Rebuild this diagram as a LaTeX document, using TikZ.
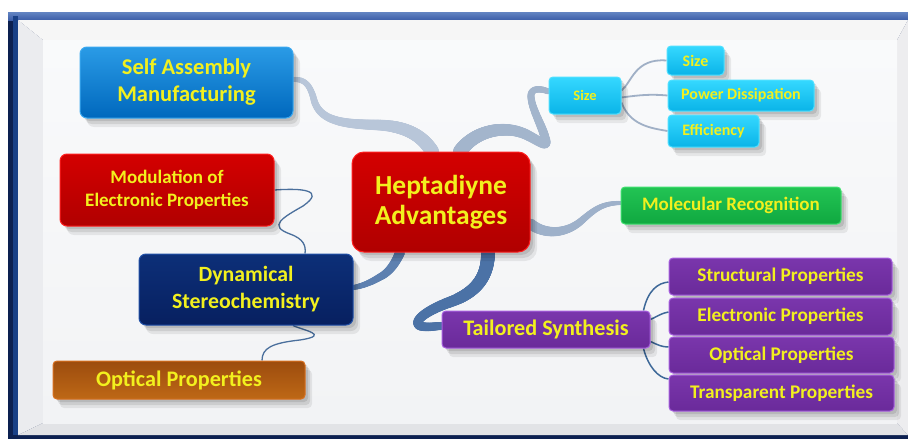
\documentclass[tikz,border=0pt]{standalone}
\usepackage{fontspec}
\setmainfont{Carlito}
\usetikzlibrary{calc,shadows,decorations.markings}
\pgfdeclarelayer{bg}
\pgfsetlayers{bg,main}
\definecolor{txtyellow}{HTML}{F2F01E}
\definecolor{frameblue}{HTML}{3D5EA8}
\definecolor{framenavy}{HTML}{0C2050}
\definecolor{bandlight}{HTML}{B8C6D9}
\definecolor{bandsize}{HTML}{A3B5CC}
\definecolor{bandmol}{HTML}{9EB1CA}
\definecolor{bandtai}{HTML}{4B72A6}
\definecolor{banddyn}{HTML}{5D80B0}
\definecolor{thinblue}{HTML}{4A6F9C}
\definecolor{thingray}{HTML}{A0B0C6}
\definecolor{thinpurp}{HTML}{3D6898}
\definecolor{HTML2A9BE6}{HTML}{2A9BE6}
\definecolor{HTML0068BD}{HTML}{0068BD}
\definecolor{HTML3AA8F0}{HTML}{3AA8F0}
\definecolor{HTMLD40000}{HTML}{D40000}
\definecolor{HTMLB00000}{HTML}{B00000}
\definecolor{HTMLFF2020}{HTML}{FF2020}
\definecolor{HTML0D2F78}{HTML}{0D2F78}
\definecolor{HTML072060}{HTML}{072060}
\definecolor{HTML2050A8}{HTML}{2050A8}
\definecolor{HTML9C4C0E}{HTML}{9C4C0E}
\definecolor{HTMLBE6816}{HTML}{BE6816}
\definecolor{HTMLD87020}{HTML}{D87020}
\definecolor{HTML35D8FF}{HTML}{35D8FF}
\definecolor{HTML0AB4E8}{HTML}{0AB4E8}
\definecolor{HTML50E0FF}{HTML}{50E0FF}
\definecolor{HTML22C454}{HTML}{22C454}
\definecolor{HTML10A840}{HTML}{10A840}
\definecolor{HTML40E070}{HTML}{40E070}
\definecolor{HTML7A36AC}{HTML}{7A36AC}
\definecolor{HTML6A2A9A}{HTML}{6A2A9A}
\definecolor{HTMLA860E0}{HTML}{A860E0}
\definecolor{bevelT}{HTML}{F6F6F6}
\definecolor{bevelL}{HTML}{EBECEF}
\definecolor{bevelB}{HTML}{E2E3E6}
\definecolor{bevelR}{HTML}{EDEDEF}
\definecolor{panelT}{HTML}{F9FAFB}
\definecolor{panelB}{HTML}{F2F3F5}
\tikzset{
  softshadow/.style={
    general shadow={fill=black,opacity=0.10,shadow xshift=3pt,shadow yshift=-3pt},
    general shadow={fill=black,opacity=0.09,shadow xshift=5pt,shadow yshift=-6pt},
    general shadow={fill=black,opacity=0.07,shadow xshift=7pt,shadow yshift=-9pt}},
  box/.style={rounded corners=7pt, align=center, inner sep=0pt, text=txtyellow,
    line width=1pt, softshadow},
  smallbox/.style={box, rounded corners=4pt},
  bluebox/.style={box, top color=HTML2A9BE6, bottom color=HTML0068BD, draw=HTML3AA8F0},
  redbox/.style={box, top color=HTMLD40000, bottom color=HTMLB00000, draw=HTMLFF2020},
  navybox/.style={box, top color=HTML0D2F78, bottom color=HTML072060, draw=HTML2050A8},
  orangebox/.style={box, rounded corners=4pt, top color=HTML9C4C0E, bottom color=HTMLBE6816, draw=HTMLD87020},
  cyanbox/.style={smallbox, top color=HTML35D8FF, bottom color=HTML0AB4E8, draw=HTML50E0FF},
  greenbox/.style={smallbox, top color=HTML22C454, bottom color=HTML10A840, draw=HTML40E070},
  purplebox/.style={smallbox, top color=HTML7A36AC, bottom color=HTML6A2A9A, draw=HTMLA860E0},
  taper/.style args={#1 from #2 to #3}{postaction={decorate, decoration={markings,
    mark=between positions 0 and 1 step 0.7pt with {%
      \pgfmathsetmacro\taperr{#2+(#3-#2)*\pgfkeysvalueof{/pgf/decoration/mark info/distance from start}/\pgfdecoratedpathlength}%
      \fill[#1] (0,0) circle[radius=\taperr pt];}}}},
  thinA/.style={draw=thinblue, line width=1.3pt},
  thinB/.style={draw=thingray, line width=1.8pt},
  thinC/.style={draw=thinpurp, line width=1.5pt},
}
\begin{document}
\begin{tikzpicture}[x=1pt,y=-1pt]
\useasboundingbox (0,0) rectangle (908,439);
% ---------- nodes ----------
\node[bluebox, minimum width=213pt, minimum height=71pt, font=\fontsize{22.5}{27}\selectfont\bfseries] (sam) at (186.5,82.5) {Self Assembly\\Manufacturing};
\node[redbox, rounded corners=12pt, minimum width=178pt, minimum height=100pt, font=\fontsize{27.5}{30}\selectfont\bfseries] (hep) at (441,202) {Heptadiyne\\Advantages};
\node[redbox, minimum width=214pt, minimum height=72pt, font=\fontsize{19}{22.5}\selectfont\bfseries] (mod) at (167,190) {Modulation of\\Electronic Properties};
\node[navybox, minimum width=214pt, minimum height=71pt, font=\fontsize{21.8}{27}\selectfont\bfseries] (dyn) at (246,289.5) {Dynamical\\Stereochemistry};
\node[orangebox, minimum width=252pt, minimum height=38pt, font=\fontsize{22.2}{24}\selectfont\bfseries] (opt) at (179,380) {Optical Properties};
\node[cyanbox, minimum width=72pt, minimum height=37pt, font=\fontsize{14.5}{16}\selectfont\bfseries] (sz) at (585,95.5) {Size};
\node[cyanbox, minimum width=57pt, minimum height=29pt, font=\fontsize{16}{18}\selectfont\bfseries] (sz2) at (695.5,60.5) {Size};
\node[cyanbox, minimum width=146pt, minimum height=31pt, font=\fontsize{16}{18}\selectfont\bfseries] (pow) at (741,95.5) {Power Dissipation};
\node[cyanbox, minimum width=91pt, minimum height=32pt, font=\fontsize{16}{18}\selectfont\bfseries] (eff) at (713.5,131) {Efficiency};
\node[greenbox, minimum width=220pt, minimum height=37pt, font=\fontsize{19}{22}\selectfont\bfseries] (mol) at (731,205.5) {Molecular Recognition};
\node[purplebox, minimum width=208pt, minimum height=37pt, font=\fontsize{22.2}{24}\selectfont\bfseries] (tai) at (546,329.5) {Tailored Synthesis};
\node[purplebox, minimum width=223pt, minimum height=37pt, font=\fontsize{19.3}{22}\selectfont\bfseries] (st) at (780.5,276.5) {Structural Properties};
\node[purplebox, minimum width=223pt, minimum height=37pt, font=\fontsize{19.3}{22}\selectfont\bfseries] (el) at (780.5,316.5) {Electronic Properties};
\node[purplebox, minimum width=225pt, minimum height=36pt, font=\fontsize{19.3}{22}\selectfont\bfseries] (op2) at (781.5,355) {Optical Properties};
\node[purplebox, minimum width=225pt, minimum height=36pt, font=\fontsize{19.3}{22}\selectfont\bfseries] (tr) at (781.5,393) {Transparent Properties};
% ---------- background: frame and connectors ----------
\begin{pgfonlayer}{bg}
\fill[white] (0,0) rectangle (908,439);
\fill[framenavy] (8,12) rectangle (908,439);
\shade[top color=HTML2050A8!70!white, bottom color=frameblue] (8,12) rectangle (908,20);
\fill[HTML2050A8!80!black] (13,16) rectangle (18,435);
\fill[bevelT] (18,20) -- (908,20) -- (897,40) -- (43,40) -- cycle;
\fill[bevelL] (18,20) -- (43,40) -- (43,423) -- (18,435) -- cycle;
\fill[bevelB] (18,435) -- (43,423) -- (897,423) -- (908,435) -- cycle;
\fill[bevelR] (908,20) -- (897,40) -- (897,423) -- (908,435) -- cycle;
\shade[top color=panelT, bottom color=panelB] (43,40) rectangle (897,423);
% hep -> sam
\path[taper=bandlight from 7 to 2.5] ($(hep.north)+(-9,0)$) .. controls (422,135) and (405,126) .. (378,125)
   .. controls (345,124) and (320,122) .. (314,100) .. controls (310,84) and (304,79) .. ($(sam.east)+(0,-3)$);
% hep -> size
\path[taper=bandsize from 7 to 3] ($(hep.north)+(19,0)$) .. controls (475,130) and (505,125) .. (525,134)
   .. controls (540,141) and (549,150) .. (545,138) .. controls (542,125) and (532,110) .. (531,97)
   .. controls (530,88) and (540,88) .. ($(sz.west)+(0,-4)$);
% hep -> mol
\path[taper=bandmol from 5.5 to 2] ($(hep.east)+(0,22)$) .. controls (545,235) and (565,234) .. (580,222)
   .. controls (592,212) and (600,203) .. ($(mol.west)+(0,-2.5)$);
% hep -> tai
\path[taper=bandtai from 7 to 4] ($(hep.south)+(47,0)$) .. controls (488,275) and (478,292) .. (450,302)
   .. controls (425,311) and (412,322) .. (420,326) .. controls (428,328) and (435,326) .. ($(tai.west)+(0,-3.5)$);
% hep -> dyn
\path[taper=banddyn from 5 to 2.5] ($(hep.south)+(-41,0)$) .. controls (396,262) and (390,272) .. (380,277)
   .. controls (370,283) and (362,286) .. ($(dyn.east)+(0,-2)$);
% mod -> dyn, dyn -> opt
\draw[thinA] (mod.east) .. controls (302,188) and (326,190) .. (303,206) .. controls (282,218) and (268,226) .. (290,234) .. controls (304,239) and (306,246) .. ($(dyn.north)+(59,0)$);
\draw[thinA] ($(dyn.south)+(47,0)$) .. controls (302,330) and (332,335) .. (300,340) .. controls (272,343) and (262,348) .. ($(opt.north)+(83,0)$);
% sz -> children
\draw[thinB] ($(sz.east)+(0,-5)$) .. controls (632,82) and (635,58) .. (sz2.west);
\draw[thinB] ($(sz.east)+(0,2)$) .. controls (640,95) and (650,94) .. (pow.west);
\draw[thinB] ($(sz.east)+(0,7)$) .. controls (630,125) and (650,128) .. (eff.west);
% tai -> children
\draw[thinC] ($(tai.north east)+(-7,0)$) .. controls (648,290) and (658,283) .. ($(st.west)+(0,5.5)$);
\draw[thinC] ($(tai.east)+(0,-10)$) .. controls (658,316) and (662,313) .. ($(el.west)+(0,-4.5)$);
\draw[thinC] ($(tai.east)+(0,12)$) .. controls (658,345) and (662,347) .. ($(op2.west)+(0,-8)$);
\draw[thinC] ($(tai.south east)+(-7,0)$) .. controls (648,366) and (658,378) .. ($(tr.west)+(0,-14)$);
\end{pgfonlayer}
\end{tikzpicture}
\end{document}
